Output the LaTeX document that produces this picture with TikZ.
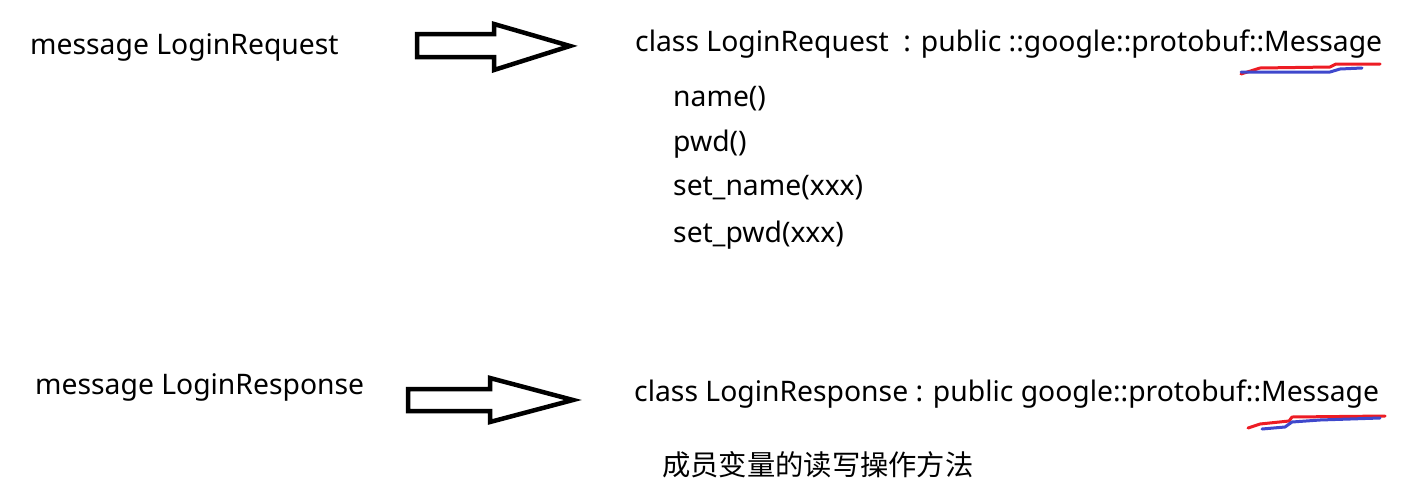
\documentclass[tikz,border=0pt]{standalone}
\usepackage{fontspec}
\setmainfont{Noto Sans}
\newfontfamily\cjk{Noto Sans CJK SC}
\begin{document}
\begin{tikzpicture}[x=1pt,y=-1pt,
  txt/.style={anchor=base west,inner sep=0pt,font=\fontsize{28.3}{32}\selectfont},
  bigarrow/.style={draw=black,line width=4.5pt,line join=miter,fill=white},
  redmark/.style={draw={rgb,255:red,237;green,28;blue,36},line width=3pt,line cap=round,line join=round},
  bluemark/.style={draw={rgb,255:red,63;green,72;blue,204},line width=3pt,line cap=round,line join=round}]
\useasboundingbox (0,0) rectangle (1406,491);
\node[txt] (m1) at (30,54) {message LoginRequest};
\node[txt] (m2) at (35,394) {message LoginResponse};
\node[txt] (c1) at (635,51) {class LoginRequest\ \ : public ::google::protobuf::Message};
\node[txt] (f1) at (673,106) {name()};
\node[txt] (f2) at (673,151) {pwd()};
\node[txt] (f3) at (673,195) {set\_name(xxx)};
\node[txt] (f4) at (673,242) {set\_pwd(xxx)};
\node[txt] (c2) at (634,401) {class LoginResponse : public google::protobuf::Message};
\node[txt,font=\cjk\fontsize{28.3}{32}\selectfont] (cn) at (662,475) {成员变量的读写操作方法};
% arrows
\draw[bigarrow] (417,34) -- (494,34) -- (494,24) -- (570,46) -- (494,70) -- (494,57) -- (417,57) -- cycle;
\draw[bigarrow] (408,389) -- (490,389) -- (490,378) -- (573,400) -- (490,422) -- (490,411) -- (408,411) -- cycle;
% underline marks
\draw[redmark] (1241,74) -- (1260,68) -- (1330,67) -- (1336,64) -- (1380,64);
\draw[bluemark] (1241,72) -- (1330,72) -- (1340,69) -- (1362,68);
\draw[redmark] (1248,428) -- (1260,424) -- (1289,421) -- (1292,417) -- (1385,416);
\draw[bluemark] (1262,429) -- (1285,427) -- (1292,422) -- (1320,420) -- (1380,418);
\end{tikzpicture}
\end{document}
